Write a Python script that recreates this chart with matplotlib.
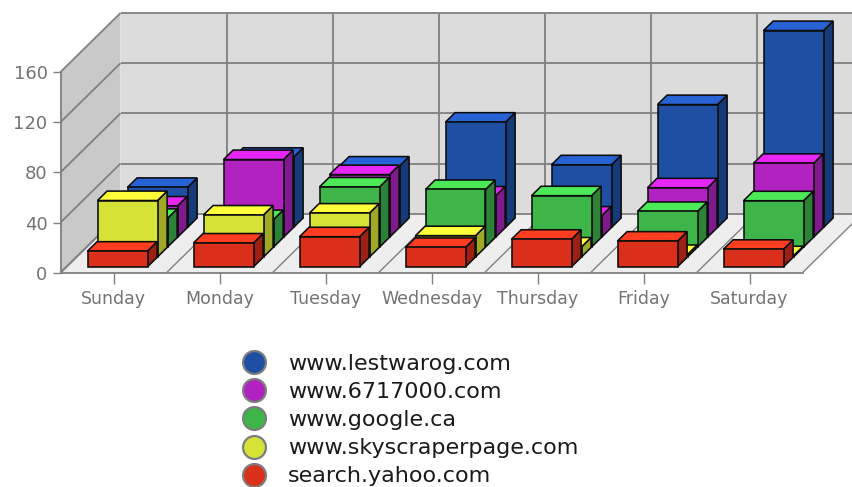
import matplotlib
matplotlib.use("Agg")
import matplotlib.pyplot as plt
from matplotlib.patches import Polygon
from matplotlib.lines import Line2D

days = ["Sunday", "Monday", "Tuesday", "Wednesday", "Thursday", "Friday", "Saturday"]
yahoo = [12.5, 19, 24, 15.5, 22, 20.5, 14]
skyscraper = [45, 33.5, 35, 17, 8, 2, 1]
google = [23, 22, 48, 46, 41, 28.5, 37]
site6717 = [25, 62, 50, 33, 17, 39.5, 59]
lestwarog = [32, 56, 49, 84, 50, 98, 157]
names = ["www.lestwarog.com", "www.6717000.com", "www.google.ca",
         "www.skyscraperpage.com", "search.yahoo.com"]
yticks = [0, 40, 80, 120, 160]

# front-to-back drawing layers: (values, front, top, side)
layers = [
    (yahoo, "#d92f1b", "#ff3d21", "#9c2112"),
    (skyscraper, "#d6e236", "#ffff3a", "#a0a827"),
    (google, "#3eb548", "#4dea58", "#2c8236"),
    (site6717, "#b122c1", "#e526f5", "#7f1a8c"),
    (lestwarog, "#1f4fa3", "#2863d6", "#173a78"),
]

W, H = 852, 487
X0, X1, Y0, Y160 = 60.5, 802.5, 272.7, 72.0
PX_X = (X1 - X0) / 7
PX_Y = (Y0 - Y160) / 160
DX, DY = 60.0, 59.0

fig = plt.figure(figsize=(W / 100, H / 100), dpi=100, facecolor="white")
ax = fig.add_axes([X0 / W, 1 - Y0 / H, (X1 - X0) / W, (Y0 - Y160) / H])
ax.set_xlim(0, 7)
ax.set_ylim(0, 160)
ax.patch.set_visible(False)


def pt(x, v, depth):
    """Category/value position pushed back by a depth in pixels."""
    return (x + depth / PX_X, v + depth * (DY / DX) / PX_Y)


GRID = "#808080"
GLW = 1.3
TXT = "#737373"


def poly(points, fc, ec="none", lw=0, z=1):
    ax.add_patch(Polygon(points, closed=True, facecolor=fc, edgecolor=ec,
                         linewidth=lw, clip_on=False, zorder=z, joinstyle="miter"))


def line(a, b, lw=GLW, z=2):
    ax.add_line(Line2D([a[0], b[0]], [a[1], b[1]], color=GRID, lw=lw,
                       clip_on=False, zorder=z, solid_capstyle="butt"))


# walls and floor
top = yticks[-1]
poly([pt(0, 0, DX), pt(7, 0, DX), pt(7, top, DX), pt(0, top, DX)], "#dcdcdc")
poly([pt(0, 0, 0), pt(0, 0, DX), pt(0, top, DX), pt(0, top, 0)], "#c9c9c9")
poly([pt(0, 0, 0), pt(7, 0, 0), pt(7, 0, DX), pt(0, 0, DX)], "#eeeeee")

for v in yticks:
    line(pt(0, v, 0), pt(0, v, DX))
    line(pt(0, v, DX), pt(7, v, DX))
for i in range(8):
    if i > 0:
        line(pt(i, 0, DX), pt(i, top, DX))
    line(pt(i, 0, 0), pt(i, 0, DX), lw=1.0 if 0 < i else GLW)

# bars, back to front
BAR_L = 21 / PX_X
BAR_W = 60 / PX_X
START, STEP, DEPTH = 6.0, 10.0, 9.6
EC = "#0c0c0c"
ELW = 1.15
for k in reversed(range(len(layers))):
    values, front, cap, side = layers[k]
    d0 = START + k * STEP
    d1 = d0 + DEPTH
    z = 10 + (len(layers) - k)
    for i, v in enumerate(values):
        l = i + BAR_L
        r = l + BAR_W
        poly([pt(r, 0, d0), pt(r, 0, d1), pt(r, v, d1), pt(r, v, d0)], side, EC, ELW, z)
        poly([pt(l, v, d0), pt(r, v, d0), pt(r, v, d1), pt(l, v, d1)], cap, EC, ELW, z)
        poly([pt(l, 0, d0), pt(r, 0, d0), pt(r, v, d0), pt(l, v, d0)], front, EC, ELW, z)

# axes
for s in ("top", "right"):
    ax.spines[s].set_visible(False)
for s in ("left", "bottom"):
    ax.spines[s].set_color(GRID)
    ax.spines[s].set_linewidth(GLW)
    ax.spines[s].set_zorder(3)
ax.set_xticks([i + 0.5 for i in range(len(days))])
ax.set_xticklabels(days, fontfamily="DejaVu Sans", fontsize=12.5, color=TXT)
ax.set_yticks(yticks)
ax.set_yticklabels([str(v) for v in yticks], fontfamily="DejaVu Sans", fontsize=13, color=TXT)
ax.tick_params(axis="x", length=7.7, width=1.0, color=GRID, pad=4.5)
ax.tick_params(axis="y", length=5.8, width=1.0, color=GRID, pad=3.5)

# legend
handles = [Line2D([], [], ls="none", marker="o", ms=16.5, mfc=layers[4 - j][1],
                  mec="#7d7d7d", mew=1.6) for j in range(5)]
fig.legend(handles, names, loc="upper left", bbox_to_anchor=(243 / W, 1 - 354 / H),
           bbox_transform=fig.transFigure, frameon=False,
           prop={"family": "DejaVu Sans", "size": 16}, labelspacing=0.365,
           handletextpad=1.02, handlelength=1.0, borderpad=0, borderaxespad=0,
           labelcolor="#1a1a1a")
fig.savefig("out.png", dpi=100, facecolor="white")
